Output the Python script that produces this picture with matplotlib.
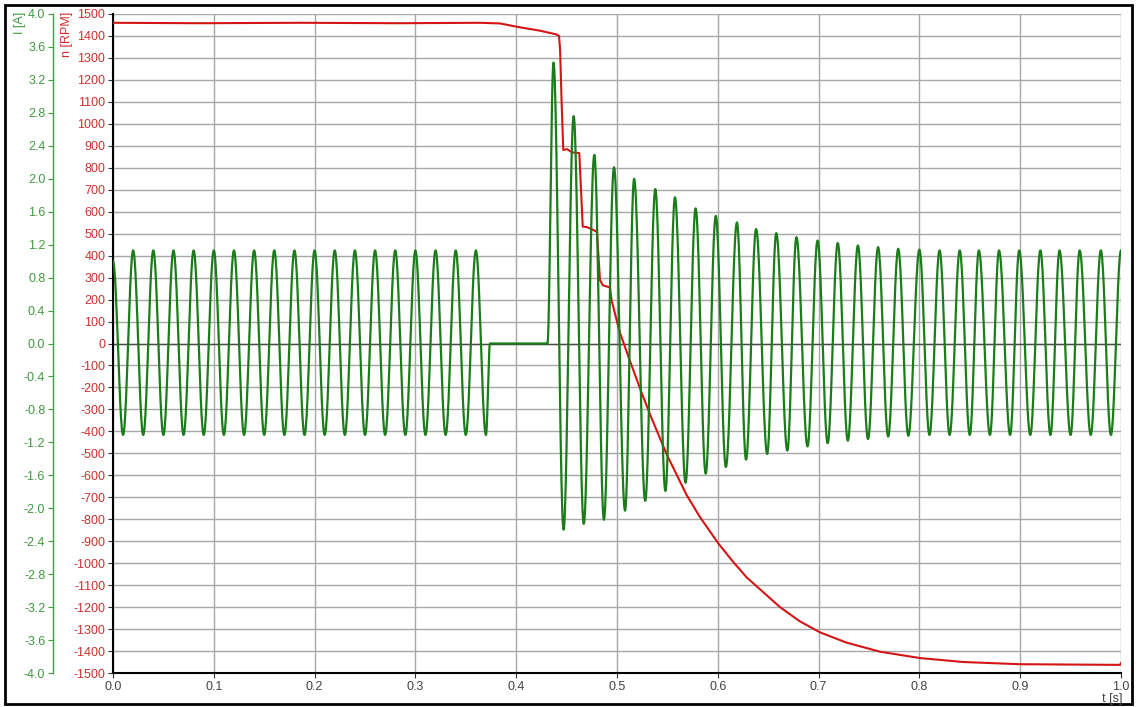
import numpy as np
import matplotlib
matplotlib.use('Agg')
from matplotlib import pyplot as plt
from matplotlib.patches import Rectangle

plt.rcParams['font.family'] = ['Liberation Sans', 'DejaVu Sans']
plt.rcParams['font.size'] = 9

# speed n [RPM]
n_t = [0.000, 0.086, 0.186, 0.285, 0.364, 0.384, 0.4005, 0.4236, 0.440, 0.4425,
       0.4435, 0.445, 0.4467, 0.4504, 0.4554, 0.4626, 0.4643, 0.466, 0.470, 0.474,
       0.480, 0.4816, 0.4831, 0.486, 0.493, 0.4947, 0.5013, 0.503, 0.5129, 0.5245,
       0.5327, 0.5493, 0.5691, 0.5823, 0.6005, 0.6154, 0.6287, 0.6617, 0.6815, 0.7014,
       0.7279, 0.7609, 0.8006, 0.8436, 0.8998, 0.999, 1.000]
n_rpm = [1460, 1458, 1460, 1458, 1460, 1457, 1442, 1424, 1407, 1400,
         1340, 1108, 881, 885, 870, 867, 700, 532, 530, 522,
         509, 400, 289, 265, 255, 195, 77, 48, -80, -225,
         -322, -505, -690, -790, -910, -995, -1065, -1200, -1265, -1315,
         -1362, -1403, -1432, -1450, -1460, -1463, -1455]

# current I [A], extremes of the green trace (time, value)
pre_t = [0.000, 0.010, 0.020, 0.030, 0.040, 0.050, 0.060, 0.070, 0.080, 0.090,
         0.100, 0.110, 0.120, 0.130, 0.140, 0.150, 0.160, 0.170, 0.180, 0.190,
         0.200, 0.210, 0.220, 0.230, 0.240, 0.250, 0.260, 0.270, 0.280, 0.290,
         0.300, 0.310, 0.320, 0.330, 0.340, 0.350, 0.360, 0.370]
pre_i = [1.00, -1.11, 1.13, -1.11, 1.13, -1.11, 1.13, -1.11, 1.13, -1.11,
         1.13, -1.11, 1.13, -1.11, 1.13, -1.11, 1.13, -1.11, 1.13, -1.11,
         1.13, -1.11, 1.13, -1.11, 1.13, -1.11, 1.13, -1.11, 1.13, -1.11,
         1.13, -1.11, 1.13, -1.11, 1.13, -1.11, 1.13, -1.11]

off_t = [0.374, 0.431]
off_i = [0.0, 0.0]

peak_t = [0.437, 0.457, 0.4775, 0.497, 0.517, 0.538, 0.5575, 0.578, 0.598, 0.619,
          0.638, 0.658, 0.678, 0.699, 0.719, 0.739, 0.759, 0.779, 0.800, 0.820,
          0.840, 0.859, 0.879, 0.899, 0.920, 0.939, 0.959, 0.980, 1.000]
peak_i = [3.41, 2.76, 2.29, 2.14, 2.00, 1.875, 1.775, 1.64, 1.55, 1.47,
          1.39, 1.34, 1.29, 1.25, 1.22, 1.19, 1.17, 1.15, 1.14, 1.13,
          1.13, 1.13, 1.13, 1.13, 1.13, 1.13, 1.13, 1.13, 1.13]
trough_t = [0.447, 0.467, 0.487, 0.508, 0.528, 0.548, 0.568, 0.588, 0.608, 0.628,
            0.649, 0.669, 0.689, 0.709, 0.729, 0.749, 0.769, 0.789, 0.810, 0.830,
            0.850, 0.870, 0.890, 0.910, 0.930, 0.950, 0.970, 0.990]
trough_i = [-2.26, -2.19, -2.14, -2.03, -1.91, -1.79, -1.69, -1.58, -1.50, -1.41,
            -1.34, -1.30, -1.25, -1.21, -1.18, -1.16, -1.13, -1.12, -1.11, -1.11,
            -1.11, -1.11, -1.11, -1.11, -1.11, -1.11, -1.11, -1.11]

xticks = [0.0, 0.1, 0.2, 0.3, 0.4, 0.5, 0.6, 0.7, 0.8, 0.9, 1.0]
rpm_ticks = list(range(-1500, 1501, 100))
i_ticks = [round(-4.0 + 0.4 * k, 1) for k in range(21)]

# join the extremes in time order
post_t, post_i = [], []
for k in range(len(peak_t)):
    post_t.append(peak_t[k]); post_i.append(peak_i[k])
    if k < len(trough_t):
        post_t.append(trough_t[k]); post_i.append(trough_i[k])
ext_t = pre_t + off_t + post_t
ext_i = pre_i + off_i + post_i


def smooth_join(tk, vk, n=24):
    # half-cosine between neighbouring extremes
    ts, vs = [], []
    for a in range(len(tk) - 1):
        s = np.linspace(0, 1, n, endpoint=False)
        w = (1 - np.cos(np.pi * s)) / 2
        ts.append(tk[a] + (tk[a + 1] - tk[a]) * s)
        vs.append(vk[a] + (vk[a + 1] - vk[a]) * w)
    ts.append([tk[-1]]); vs.append([vk[-1]])
    return np.concatenate(ts), np.concatenate(vs)


cur_t, cur_i = smooth_join(ext_t, ext_i)

RED = '#d41515'
GREEN = '#1a7d1a'
RED_TXT = '#cc3030'
GREEN_TXT = '#3f9a3f'

W, H = 1140, 707
fig = plt.figure(figsize=(W / 100, H / 100), dpi=100)
ax = fig.add_axes([113 / W, (H - 673) / H, 1008 / W, 659 / H])
ax2 = ax.twinx()

ax.plot(n_t, n_rpm, color=RED, lw=1.5, zorder=3)
ax2.plot(cur_t, cur_i, color=GREEN, lw=1.6, zorder=3)

ax.set_xlim(0, 1.0)
ax.set_ylim(-1500, 1500)
ax2.set_ylim(-4.0, 4.0)
ax.set_xticks(xticks)
ax.set_xticklabels(['%.1f' % v for v in xticks])
ax.set_yticks(rpm_ticks)
ax.set_yticklabels([str(v) for v in rpm_ticks])
ax2.set_yticks(i_ticks)
ax2.set_yticklabels(['%.1f' % v for v in i_ticks])

ax.grid(True, color='#a8a8a8', lw=1.0)
ax.axhline(0, color='#4a4a4a', lw=1.0, zorder=1)
ax.set_axisbelow(True)

for s in ['top', 'right']:
    ax.spines[s].set_visible(False)
for s in ['left', 'bottom']:
    ax.spines[s].set_color('black')
    ax.spines[s].set_linewidth(1.5)
for s in ['top', 'right', 'bottom']:
    ax2.spines[s].set_visible(False)
ax2.yaxis.set_ticks_position('left')
ax2.spines['left'].set_visible(True)
ax2.spines['left'].set_position(('outward', 43.2))
ax2.spines['left'].set_color(GREEN_TXT)
ax2.spines['left'].set_linewidth(1.0)

ax.tick_params(axis='y', colors='#333333', labelcolor=RED_TXT, length=3.5, pad=2, labelsize=9)
ax.tick_params(axis='x', colors='#333333', labelcolor='#444444', length=3.5, pad=2, labelsize=9)
ax2.tick_params(axis='y', colors=GREEN_TXT, labelcolor=GREEN_TXT, length=3.5, pad=2, labelsize=9)

fig.text(20 / W, 1 - 12 / H, 'I [A]', rotation=90, ha='center', va='top',
         color=GREEN_TXT, fontsize=9)
fig.text(67 / W, 1 - 12 / H, 'n [RPM]', rotation=90, ha='center', va='top',
         color=RED_TXT, fontsize=9)
fig.text(1122 / W, 1 - 699 / H, 't [s]', ha='right', va='center',
         color='#444444', fontsize=9)

fig.patches.append(Rectangle((5 / W, 3 / H), (1132 - 5) / W, (703 - 4) / H,
                             transform=fig.transFigure, fill=False,
                             lw=2.0, ec='black'))

fig.savefig('out.png', dpi=100)
